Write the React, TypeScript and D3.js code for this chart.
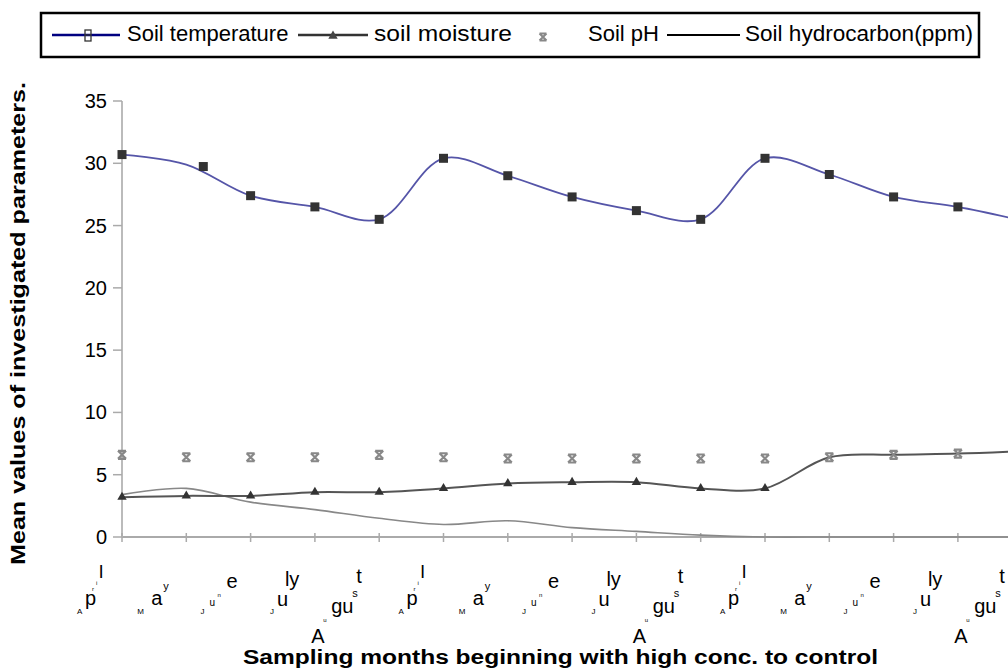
import * as d3 from "d3";
import React from "react";

// month label under each sampling point
const months = [
  "April", "May", "June", "July", "August",
  "April", "May", "June", "July", "August",
  "April", "May", "June", "July", "August",
];

// values
const soilTemperature = [30.7, 29.9, 27.4, 26.5, 25.5, 30.4, 29.0, 27.3, 26.2, 25.5, 30.4, 29.1, 27.3, 26.5, 25.4];
const soilMoisture = [3.2, 3.3, 3.3, 3.6, 3.6, 3.9, 4.3, 4.4, 4.4, 3.9, 3.9, 6.4, 6.6, 6.7, 6.9];
const soilPH = [6.6, 6.4, 6.4, 6.4, 6.6, 6.4, 6.3, 6.3, 6.3, 6.3, 6.3, 6.4, 6.6, 6.7, 6.9];
const soilHydrocarbon = [3.4, 3.9, 2.8, 2.2, 1.5, 1.0, 1.3, 0.75, 0.45, 0.15, 0, 0, 0, 0, 0];
const yTicks = [0, 5, 10, 15, 20, 25, 30, 35];

// the month labels are drawn glyph by glyph, staggered like the original
// [text, dx from tick, baseline y, font size]
const glyphLayout: Record<string, [string, number, number, number][]> = {
  April: [["A", -45, 614, 8], ["p", -37, 605, 20], ["r", -30, 591, 6], ["i", -26, 585, 6], ["l", -23, 578, 19]],
  May: [["M", -49, 614, 8], ["a", -35, 605, 20], ["y", -23, 590, 11]],
  June: [["J", -50, 614, 8], ["u", -41, 606, 10], ["n", -33, 597, 6], ["e", -24, 588, 20]],
  July: [["J", -45, 614, 8], ["u", -38, 606, 20], ["ly", -30, 586, 20]],
  August: [["A", -68, 643, 20], ["u", -56, 622, 6], ["gu", -48, 613, 20], ["s", -27, 597, 11], ["t", -23, 583, 20]],
};

const W = 1008;
const H = 670;
const font = "Arial, 'Liberation Sans', sans-serif";

const x = d3.scaleLinear().domain([0, 1]).range([122, 186.3]);
const y = d3.scaleLinear().domain([0, 35]).range([537, 101]);

const smooth = d3.curveCatmullRom.alpha(0.5);
const lineOf = (vals: number[]) =>
  d3.line<number>().x((_, i) => x(i)).y((v) => y(v)).curve(smooth)(vals) || "";

const xMark = (cx: number, cy: number, s: number) =>
  `M${cx - s},${cy - s}L${cx + s},${cy + s}M${cx + s},${cy - s}L${cx - s},${cy + s}` +
  `M${cx - s},${cy - s}H${cx + s}M${cx - s},${cy + s}H${cx + s}`;

const triangle = d3.symbol().type(d3.symbolTriangle).size(38)();

export default function App() {
  const idx = d3.range(months.length);
  return (
    <svg
      width={W}
      height={H}
      style={{ position: "absolute", left: 0, top: 0, background: "#fff" }}
      fontFamily={font}
    >
      {/* legend */}
      <rect x={41} y={13} width={938} height={44} fill="#fff" stroke="#000" strokeWidth={2.5} />
      <line x1={52} x2={120} y1={35} y2={35} stroke="#000080" strokeWidth={2.5} />
      <rect x={85} y={30} width={6} height={11} fill="none" stroke="#333" strokeWidth={1.3} />
      <line x1={85} x2={91} y1={35} y2={35} stroke="#333" strokeWidth={1.3} />
      <text x={127} y={41} fontSize={22}>Soil temperature</text>
      <line x1={298} x2={368} y1={35} y2={35} stroke="#333" strokeWidth={2.5} />
      <path d={triangle} transform="translate(333,36)" fill="#444" />
      <text x={374} y={41} fontSize={22} textLength={138} lengthAdjust="spacingAndGlyphs">soil moisture</text>
      <path d={xMark(543, 37, 3.5)} stroke="#888" strokeWidth={2} fill="none" />
      <text x={588} y={41} fontSize={22}>Soil pH</text>
      <line x1={667} x2={740} y1={35} y2={35} stroke="#000" strokeWidth={2} />
      <text x={745} y={41} fontSize={22} textLength={228} lengthAdjust="spacingAndGlyphs">Soil hydrocarbon(ppm)</text>

      {/* axes */}
      <line x1={x(0)} x2={W} y1={y(0)} y2={y(0)} stroke="#aaa" strokeWidth={2} />
      <line x1={x(0)} x2={x(0)} y1={y(35)} y2={y(0)} stroke="#bbb" strokeWidth={2} />
      {yTicks.map((t) => (
        <g key={t}>
          <line x1={x(0) - 9} x2={x(0)} y1={y(t)} y2={y(t)} stroke="#aaa" strokeWidth={1.5} />
          <text x={107} y={y(t)} dy="0.35em" textAnchor="end" fontSize={20}>
            {t}
          </text>
        </g>
      ))}
      {idx.map((i) => (
        <line key={i} x1={x(i)} x2={x(i)} y1={y(0) - 4} y2={y(0) + 5} stroke="#aaa" strokeWidth={1.5} />
      ))}

      {/* month labels */}
      {months.map((m, i) =>
        glyphLayout[m].map(([ch, dx, by, fs], k) => (
          <text key={`${i}-${k}`} x={x(i) + dx} y={by} fontSize={fs}>
            {ch}
          </text>
        ))
      )}

      <text
        x={243}
        y={664}
        fontSize={20}
        fontWeight="bold"
        textLength={635}
        lengthAdjust="spacingAndGlyphs"
      >
        Sampling months beginning with high conc. to control
      </text>
      <text
        transform={`translate(25,565) rotate(-90)`}
        fontSize={20}
        fontWeight="bold"
        textLength={483}
        lengthAdjust="spacingAndGlyphs"
      >
        Mean values of investigated parameters.
      </text>

      {/* series */}
      <path d={lineOf(soilHydrocarbon)} fill="none" stroke="#888" strokeWidth={1.6} />
      <path d={lineOf(soilMoisture)} fill="none" stroke="#555" strokeWidth={2} />
      <path d={lineOf(soilTemperature)} fill="none" stroke="#5555a8" strokeWidth={1.8} />

      {soilPH.map((v, i) => (
        <path key={i} d={xMark(x(i), y(v), 4)} stroke="#888" strokeWidth={2.2} fill="none" />
      ))}
      {soilMoisture.map((v, i) =>
        Math.abs(v - soilPH[i]) > 0.5 ? (
          <path key={i} d={triangle} transform={`translate(${x(i)},${y(v)})`} fill="#333" />
        ) : null
      )}
      {soilTemperature.map((v, i) => (
        <rect
          key={i}
          x={x(i) + (i === 1 ? 17 : 0) - 4.5}
          y={y(v) + (i === 1 ? 2 : 0) - 4.5}
          width={9}
          height={9}
          fill="#333"
        />
      ))}
    </svg>
  );
}
